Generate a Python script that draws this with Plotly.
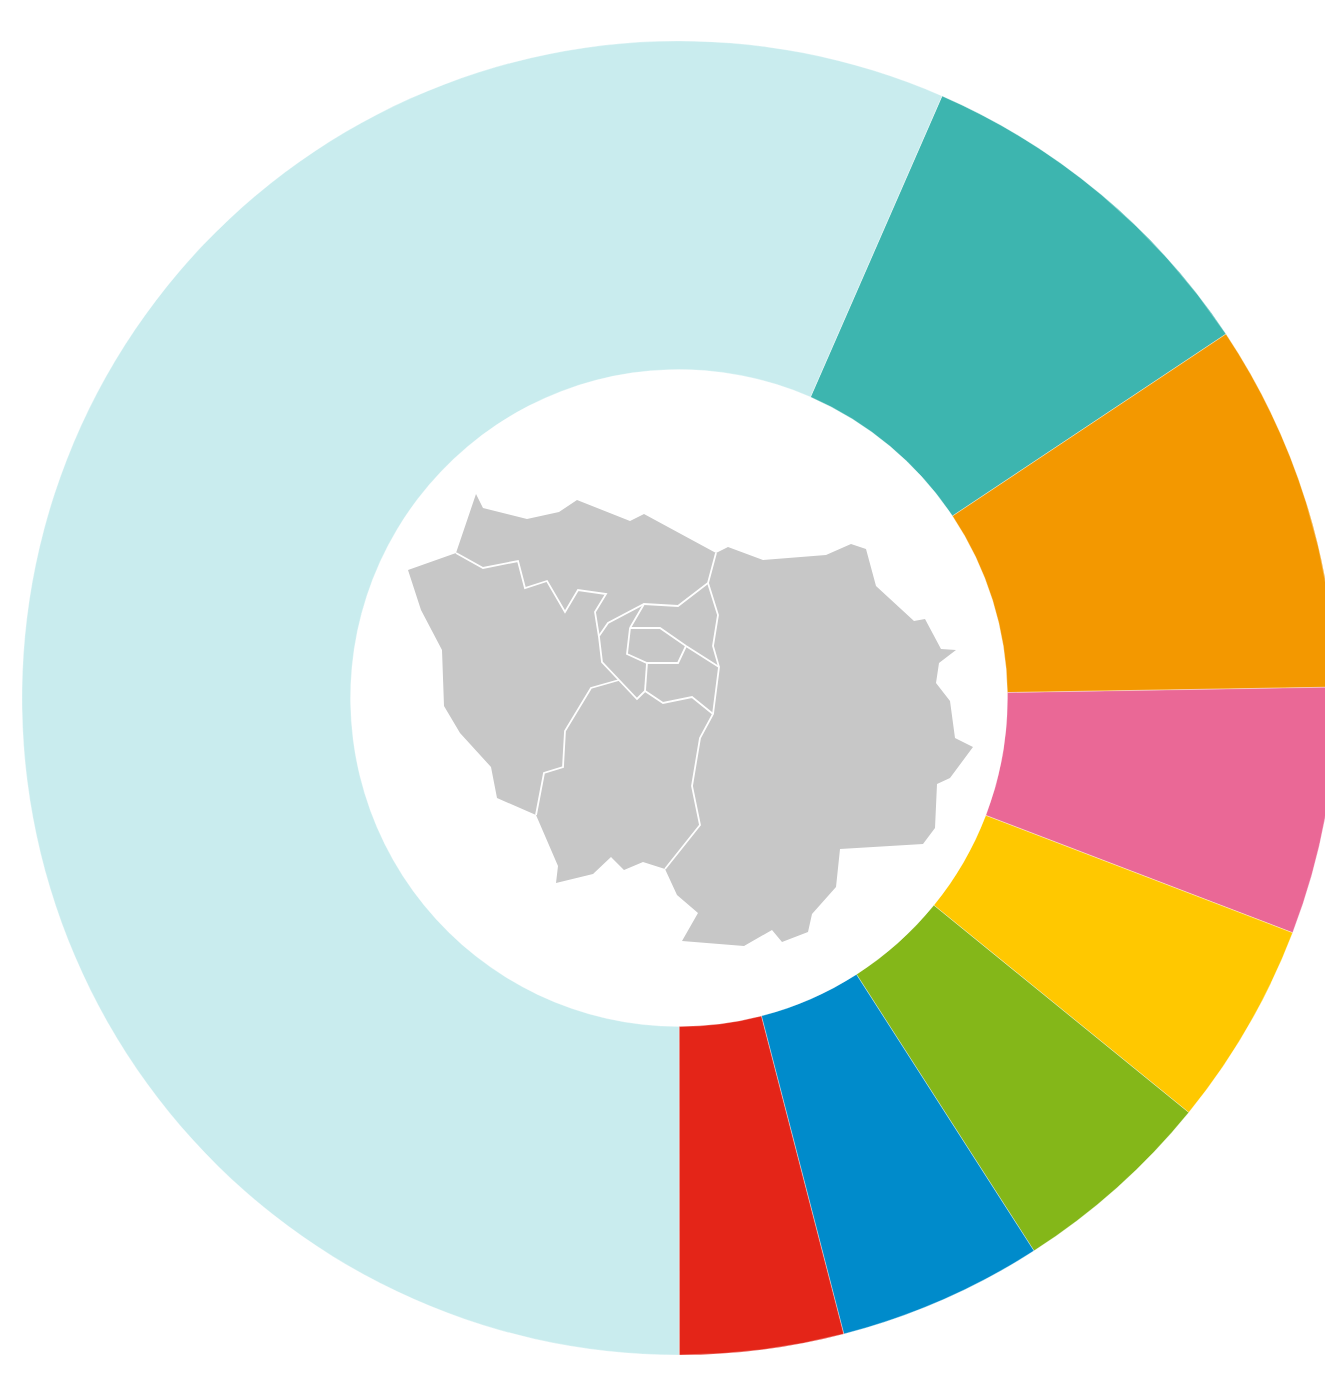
import plotly.graph_objects as go

# Donut data (share of total)
categories = ["Teal", "Orange", "Pink", "Yellow", "Green", "Blue", "Red", "Others"]
values = [9.1, 9.08, 6.08, 5.05, 5.05, 5.05, 4.03, 56.56]
colors = ["#3DB5AF", "#F39800", "#EA6896", "#FFC800", "#84B719", "#008BCB", "#E42518", "#C9ECEE"]

# Map of the region in the donut hole (outline and department borders)
outline_x = [476, 483, 527, 559, 577, 630, 644, 716, 728, 763, 826, 851, 866, 876, 914, 925, 941, 956, 939, 936,
             950, 955, 973, 950, 937, 935, 923, 840, 836, 812, 808, 782, 772, 744, 682, 698, 677, 665, 643, 624,
             611, 593, 556, 558, 536, 497, 491, 460, 444, 442, 421, 408, 456, 476]
outline_y = [494, 508, 519, 512, 500, 521, 514, 553, 547, 560, 555, 544, 549, 586, 621, 619, 649, 650, 663, 683,
             701, 738, 747, 778, 784, 828, 844, 849, 887, 914, 932, 942, 930, 946, 941, 913, 895, 869, 862, 870,
             857, 874, 883, 866, 815, 798, 767, 733, 706, 650, 610, 570, 553, 494]

border_x = [456, 483, 518, 525, 547, 565, 578, 606, 595, 599, 602, 619, 637, 645, 663, 692, 713, None,
            619, 591, 565, 563, 544, 536, None,
            716, 708, 678, 644, 608, 599, None,
            644, 630, 660, 686, 719, None,
            630, 627, 647, 678, 686, None,
            647, 645, None,
            708, 718, 713, 719, 713, 700, 692, 700, 665]
border_y = [553, 568, 561, 588, 581, 612, 590, 594, 612, 637, 662, 680, 699, 691, 703, 697, 714, None,
            680, 688, 731, 767, 773, 815, None,
            553, 583, 606, 604, 623, 636, None,
            604, 628, 628, 646, 667, None,
            628, 654, 663, 663, 646, None,
            663, 691, None,
            583, 615, 646, 667, 714, 738, 786, 825, 869]

W, H = 1358, 1396
CX, CY, R = 679, 698, 657

fig = go.Figure()
fig.add_trace(go.Scatter(x=outline_x, y=outline_y, mode="lines", fill="toself",
                         fillcolor="#C7C7C7", line=dict(width=0, color="#C7C7C7"),
                         hoverinfo="skip", showlegend=False))
fig.add_trace(go.Scatter(x=border_x, y=border_y, mode="lines",
                         line=dict(width=1.8, color="#FFFFFF"),
                         hoverinfo="skip", showlegend=False))
fig.add_trace(go.Pie(labels=categories, values=values, hole=0.5, sort=False,
                     direction="clockwise", rotation=23.6, textinfo="none",
                     marker=dict(colors=colors, line=dict(width=0.4, color="rgba(255,255,255,0.8)")),
                     domain=dict(x=[(CX - R) / W, (CX + R) / W],
                                 y=[(H - CY - R) / H, (H - CY + R) / H]),
                     showlegend=False))
fig.update_layout(width=W, height=H, autosize=False,
                  margin=dict(l=0, r=0, t=0, b=0, pad=0),
                  paper_bgcolor="#FFFFFF", plot_bgcolor="rgba(0,0,0,0)",
                  xaxis=dict(range=[0, W], visible=False, fixedrange=True),
                  yaxis=dict(range=[H, 0], visible=False, fixedrange=True))
fig.write_html("out.html", config=dict(displayModeBar=False), full_html=True,
               post_script="document.documentElement.style.overflow='hidden';"
                           "document.body.style.overflow='hidden';document.body.style.margin='0';")
